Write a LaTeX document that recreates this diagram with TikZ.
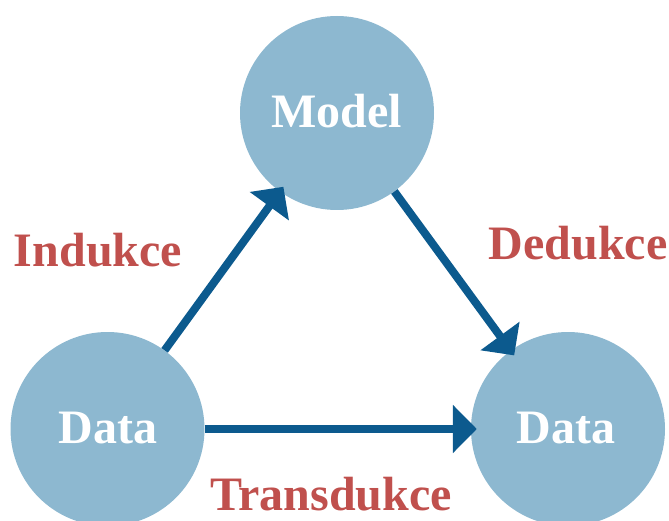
\documentclass[tikz,border=0pt]{standalone}
\usepackage{fontspec}
\setmainfont{Liberation Serif}
\usetikzlibrary{arrows.meta}
\definecolor{circfill}{HTML}{8DB8D0}
\definecolor{arrblue}{HTML}{0C5A8E}
\definecolor{labred}{HTML}{C0504D}
\tikzset{
  blob/.style={circle, fill=circfill, draw=none, minimum size=194pt, inner sep=0pt},
  blobtext/.style={anchor=base, inner sep=0pt, text=white,
    font=\fontsize{48pt}{50pt}\selectfont\bfseries},
  flow/.style={draw=arrblue, line width=8pt, shorten >=-6pt,
    -{Triangle[length=24pt,width=47pt]}},
  lab/.style={anchor=base, inner sep=0pt, text depth=0pt, text=labred,
    font=\fontsize{48pt}{50pt}\selectfont\bfseries}
}
\begin{document}
\begin{tikzpicture}[x=1pt,y=-1pt]
\useasboundingbox (0,0) rectangle (669,521);
\clip (0,0) rectangle (669,521);
\node[blob] (M) at (337,113) {};
\node[blob] (L) at (107.5,429) {};
\node[blob] (R) at (568,429) {};
\node[blobtext] (Mt) at (337,128) {Model};
\node[blobtext] (Lt) at (108,443) {Data};
\node[blobtext] (Rt) at (566,443) {Data};
\draw[flow] (L) -- (M);
\draw[flow] (M) -- (R);
\draw[flow] (L) -- (R);
\node[lab] (ind) at (98,267) {Indukce};
\node[lab] (ded) at (578,260) {Dedukce};
\node[lab] (tra) at (331,510) {Transdukce};
\end{tikzpicture}
\end{document}
